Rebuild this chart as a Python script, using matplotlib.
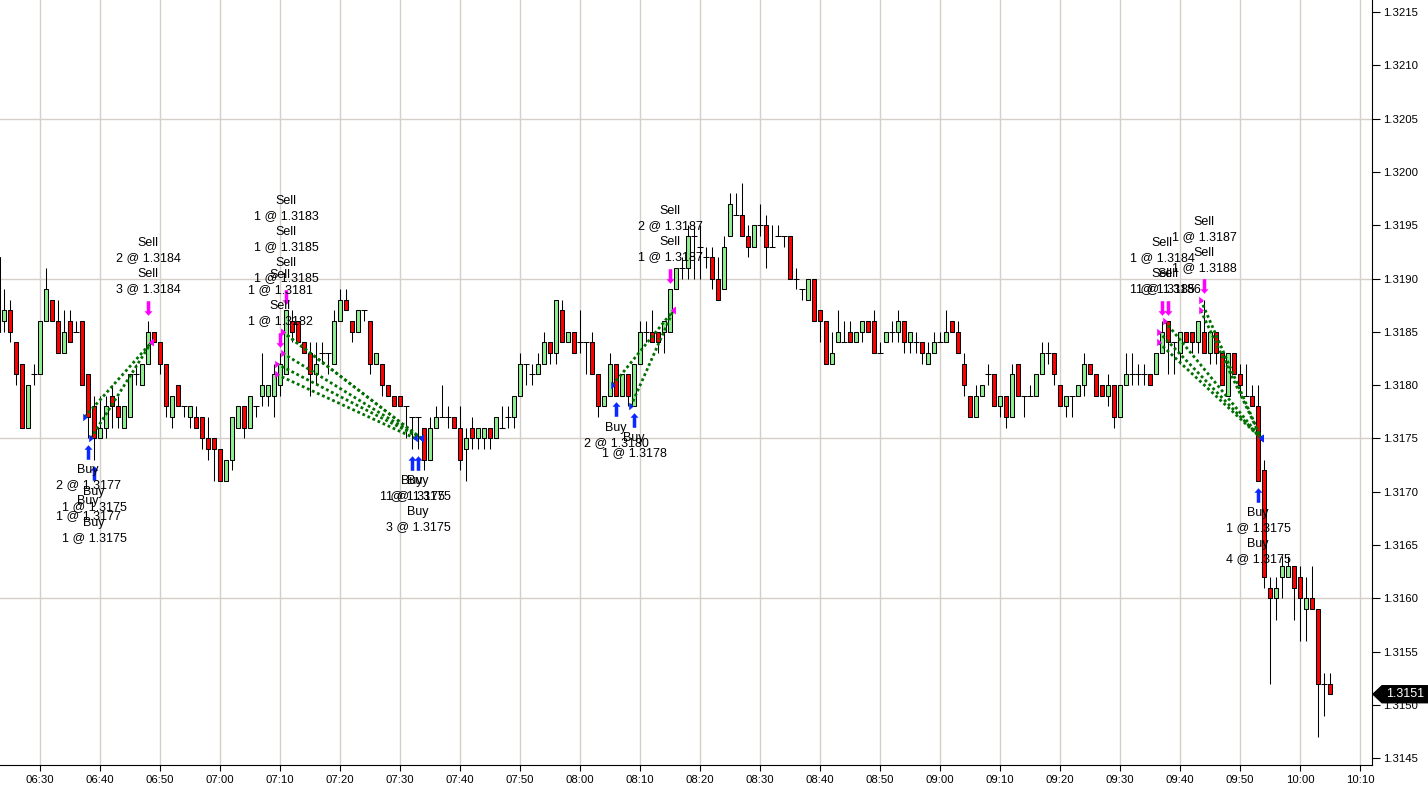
import numpy as np
import pandas as pd
import matplotlib
matplotlib.use("Agg")
import matplotlib.pyplot as plt
import matplotlib.transforms as mtransforms
from matplotlib.path import Path
from matplotlib.patches import Polygon

plt.rcParams['font.family'] = ['Liberation Sans', 'DejaVu Sans']

# one-minute bars, 06:23 .. 10:05
times = pd.date_range("2012-01-01 06:23", "2012-01-01 10:05", freq="min")

opens = [
    1.3192, 1.3186, 1.3187, 1.3184, 1.3182, 1.3176, 1.3181, 1.3181, 1.3186, 1.3188,  # 06:23
    1.3186, 1.3183, 1.3186, 1.3185, 1.3186, 1.3181, 1.3178, 1.3175, 1.3176, 1.3179,  # 06:33
    1.3178, 1.3176, 1.3177, 1.3181, 1.3180, 1.3182, 1.3185, 1.3184, 1.3182, 1.3177,  # 06:43
    1.3180, 1.3178, 1.3177, 1.3177, 1.3177, 1.3175, 1.3175, 1.3174, 1.3171, 1.3173,  # 06:53
    1.3176, 1.3178, 1.3176, 1.3178, 1.3179, 1.3179, 1.3179, 1.3180, 1.3181, 1.3186,  # 07:03
    1.3186, 1.3184, 1.3183, 1.3181, 1.3183, 1.3183, 1.3182, 1.3186, 1.3188, 1.3186,  # 07:13
    1.3185, 1.3187, 1.3186, 1.3182, 1.3182, 1.3180, 1.3179, 1.3179, 1.3178, 1.3177,  # 07:23
    1.3177, 1.3176, 1.3173, 1.3176, 1.3177, 1.3177, 1.3177, 1.3176, 1.3174, 1.3176,  # 07:33
    1.3175, 1.3175, 1.3176, 1.3175, 1.3176, 1.3177, 1.3177, 1.3179, 1.3182, 1.3181,  # 07:43
    1.3181, 1.3182, 1.3184, 1.3183, 1.3187, 1.3184, 1.3185, 1.3184, 1.3184, 1.3184,  # 07:53
    1.3181, 1.3178, 1.3179, 1.3182, 1.3179, 1.3181, 1.3178, 1.3182, 1.3185, 1.3185,  # 08:03
    1.3185, 1.3185, 1.3185, 1.3189, 1.3191, 1.3191, 1.3194, 1.3193, 1.3192, 1.3192,  # 08:13
    1.3190, 1.3189, 1.3194, 1.3196, 1.3196, 1.3194, 1.3193, 1.3195, 1.3195, 1.3193,  # 08:23
    1.3194, 1.3194, 1.3194, 1.3190, 1.3189, 1.3188, 1.3190, 1.3187, 1.3186, 1.3182,  # 08:33
    1.3184, 1.3184, 1.3185, 1.3184, 1.3185, 1.3186, 1.3186, 1.3183, 1.3184, 1.3185,  # 08:43
    1.3185, 1.3186, 1.3184, 1.3184, 1.3184, 1.3182, 1.3183, 1.3184, 1.3184, 1.3186,  # 08:53
    1.3185, 1.3182, 1.3179, 1.3177, 1.3179, 1.3181, 1.3181, 1.3178, 1.3179, 1.3177,  # 09:03
    1.3182, 1.3179, 1.3179, 1.3179, 1.3181, 1.3183, 1.3183, 1.3180, 1.3178, 1.3179,  # 09:13
    1.3179, 1.3180, 1.3182, 1.3181, 1.3180, 1.3179, 1.3180, 1.3177, 1.3180, 1.3181,  # 09:23
    1.3181, 1.3181, 1.3181, 1.3181, 1.3183, 1.3186, 1.3184, 1.3183, 1.3185, 1.3185,  # 09:33
    1.3184, 1.3185, 1.3183, 1.3185, 1.3183, 1.3179, 1.3183, 1.3181, 1.3179, 1.3179,  # 09:43
    1.3178, 1.3172, 1.3161, 1.3160, 1.3162, 1.3162, 1.3163, 1.3162, 1.3159, 1.3160,  # 09:53
    1.3159, 1.3152, 1.3152,                                                          # 10:03
]
highs = [
    1.3192, 1.3189, 1.3188, 1.3184, 1.3182, 1.3180, 1.3182, 1.3186, 1.3191, 1.3188,
    1.3188, 1.3187, 1.3187, 1.3186, 1.3186, 1.3181, 1.3179, 1.3179, 1.3179, 1.3180,
    1.3179, 1.3178, 1.3181, 1.3182, 1.3182, 1.3186, 1.3185, 1.3184, 1.3182, 1.3179,
    1.3180, 1.3178, 1.3178, 1.3178, 1.3177, 1.3177, 1.3175, 1.3174, 1.3173, 1.3177,
    1.3178, 1.3178, 1.3179, 1.3178, 1.3183, 1.3180, 1.3182, 1.3183, 1.3187, 1.3187,
    1.3186, 1.3184, 1.3184, 1.3184, 1.3184, 1.3183, 1.3187, 1.3189, 1.3189, 1.3186,
    1.3187, 1.3187, 1.3186, 1.3183, 1.3182, 1.3180, 1.3179, 1.3179, 1.3178, 1.3177,
    1.3177, 1.3176, 1.3177, 1.3178, 1.3180, 1.3178, 1.3177, 1.3178, 1.3176, 1.3177,
    1.3176, 1.3176, 1.3176, 1.3177, 1.3178, 1.3178, 1.3179, 1.3183, 1.3182, 1.3182,
    1.3183, 1.3185, 1.3184, 1.3188, 1.3188, 1.3185, 1.3185, 1.3187, 1.3184, 1.3185,
    1.3181, 1.3179, 1.3183, 1.3182, 1.3181, 1.3181, 1.3182, 1.3186, 1.3186, 1.3187,
    1.3185, 1.3186, 1.3189, 1.3191, 1.3192, 1.3195, 1.3195, 1.3195, 1.3193, 1.3193,
    1.3192, 1.3194, 1.3198, 1.3198, 1.3199, 1.3195, 1.3195, 1.3197, 1.3196, 1.3195,
    1.3195, 1.3194, 1.3194, 1.3191, 1.3189, 1.3190, 1.3190, 1.3187, 1.3186, 1.3185,
    1.3187, 1.3186, 1.3186, 1.3185, 1.3186, 1.3186, 1.3187, 1.3184, 1.3185, 1.3186,
    1.3187, 1.3186, 1.3185, 1.3185, 1.3184, 1.3184, 1.3185, 1.3185, 1.3187, 1.3186,
    1.3186, 1.3183, 1.3179, 1.3180, 1.3180, 1.3182, 1.3181, 1.3179, 1.3179, 1.3182,
    1.3182, 1.3179, 1.3180, 1.3181, 1.3184, 1.3184, 1.3183, 1.3180, 1.3179, 1.3179,
    1.3180, 1.3183, 1.3182, 1.3181, 1.3180, 1.3181, 1.3180, 1.3180, 1.3183, 1.3183,
    1.3182, 1.3182, 1.3181, 1.3183, 1.3186, 1.3186, 1.3184, 1.3185, 1.3185, 1.3185,
    1.3186, 1.3188, 1.3185, 1.3185, 1.3183, 1.3183, 1.3183, 1.3182, 1.3182, 1.3180,
    1.3180, 1.3173, 1.3162, 1.3162, 1.3164, 1.3164, 1.3163, 1.3163, 1.3162, 1.3163,
    1.3159, 1.3153, 1.3153,
]
lows = [
    1.3185, 1.3185, 1.3184, 1.3180, 1.3176, 1.3176, 1.3180, 1.3181, 1.3186, 1.3186,
    1.3183, 1.3183, 1.3184, 1.3185, 1.3180, 1.3175, 1.3173, 1.3175, 1.3175, 1.3176,
    1.3176, 1.3176, 1.3177, 1.3180, 1.3180, 1.3182, 1.3184, 1.3181, 1.3177, 1.3176,
    1.3178, 1.3177, 1.3176, 1.3176, 1.3174, 1.3173, 1.3171, 1.3171, 1.3171, 1.3172,
    1.3176, 1.3175, 1.3176, 1.3177, 1.3178, 1.3178, 1.3177, 1.3179, 1.3181, 1.3184,
    1.3184, 1.3183, 1.3179, 1.3180, 1.3182, 1.3181, 1.3182, 1.3186, 1.3187, 1.3184,
    1.3185, 1.3186, 1.3181, 1.3182, 1.3179, 1.3179, 1.3178, 1.3178, 1.3175, 1.3174,
    1.3174, 1.3172, 1.3173, 1.3176, 1.3177, 1.3176, 1.3176, 1.3172, 1.3171, 1.3174,
    1.3174, 1.3174, 1.3174, 1.3175, 1.3176, 1.3176, 1.3176, 1.3179, 1.3180, 1.3180,
    1.3181, 1.3182, 1.3182, 1.3182, 1.3184, 1.3184, 1.3183, 1.3183, 1.3181, 1.3181,
    1.3177, 1.3178, 1.3179, 1.3179, 1.3179, 1.3178, 1.3178, 1.3182, 1.3184, 1.3184,
    1.3183, 1.3183, 1.3185, 1.3189, 1.3190, 1.3190, 1.3190, 1.3190, 1.3191, 1.3189,
    1.3188, 1.3189, 1.3194, 1.3196, 1.3194, 1.3192, 1.3193, 1.3194, 1.3191, 1.3193,
    1.3194, 1.3193, 1.3190, 1.3189, 1.3188, 1.3188, 1.3186, 1.3184, 1.3182, 1.3182,
    1.3184, 1.3184, 1.3184, 1.3184, 1.3184, 1.3185, 1.3183, 1.3183, 1.3184, 1.3184,
    1.3184, 1.3183, 1.3183, 1.3183, 1.3182, 1.3182, 1.3183, 1.3184, 1.3184, 1.3185,
    1.3183, 1.3179, 1.3177, 1.3177, 1.3179, 1.3180, 1.3178, 1.3177, 1.3176, 1.3177,
    1.3179, 1.3177, 1.3179, 1.3179, 1.3181, 1.3182, 1.3180, 1.3178, 1.3177, 1.3177,
    1.3179, 1.3179, 1.3181, 1.3179, 1.3179, 1.3178, 1.3176, 1.3177, 1.3180, 1.3180,
    1.3180, 1.3180, 1.3180, 1.3181, 1.3183, 1.3181, 1.3181, 1.3182, 1.3184, 1.3183,
    1.3183, 1.3183, 1.3182, 1.3182, 1.3180, 1.3179, 1.3181, 1.3179, 1.3179, 1.3178,
    1.3171, 1.3161, 1.3152, 1.3158, 1.3160, 1.3162, 1.3158, 1.3156, 1.3156, 1.3159,
    1.3147, 1.3149, 1.3151,
]
closes = [
    1.3185, 1.3187, 1.3185, 1.3181, 1.3176, 1.3180, 1.3181, 1.3186, 1.3189, 1.3186,
    1.3183, 1.3185, 1.3184, 1.3185, 1.3180, 1.3177, 1.3175, 1.3176, 1.3178, 1.3178,
    1.3177, 1.3178, 1.3181, 1.3181, 1.3182, 1.3185, 1.3184, 1.3182, 1.3178, 1.3179,
    1.3178, 1.3178, 1.3178, 1.3176, 1.3175, 1.3174, 1.3174, 1.3171, 1.3173, 1.3177,
    1.3178, 1.3176, 1.3179, 1.3178, 1.3180, 1.3180, 1.3181, 1.3182, 1.3187, 1.3185,
    1.3184, 1.3183, 1.3181, 1.3182, 1.3183, 1.3183, 1.3186, 1.3188, 1.3187, 1.3185,
    1.3187, 1.3187, 1.3182, 1.3183, 1.3180, 1.3179, 1.3178, 1.3178, 1.3178, 1.3177,
    1.3177, 1.3173, 1.3176, 1.3177, 1.3177, 1.3177, 1.3176, 1.3173, 1.3175, 1.3175,
    1.3176, 1.3176, 1.3175, 1.3177, 1.3176, 1.3177, 1.3179, 1.3182, 1.3182, 1.3181,
    1.3182, 1.3184, 1.3183, 1.3188, 1.3184, 1.3185, 1.3183, 1.3184, 1.3184, 1.3181,
    1.3178, 1.3179, 1.3182, 1.3179, 1.3181, 1.3179, 1.3182, 1.3185, 1.3185, 1.3184,
    1.3184, 1.3186, 1.3189, 1.3191, 1.3191, 1.3194, 1.3194, 1.3193, 1.3192, 1.3190,
    1.3188, 1.3193, 1.3197, 1.3196, 1.3194, 1.3193, 1.3195, 1.3195, 1.3193, 1.3193,
    1.3194, 1.3194, 1.3190, 1.3190, 1.3189, 1.3190, 1.3186, 1.3186, 1.3182, 1.3183,
    1.3185, 1.3184, 1.3184, 1.3185, 1.3186, 1.3185, 1.3183, 1.3183, 1.3185, 1.3185,
    1.3186, 1.3184, 1.3185, 1.3184, 1.3183, 1.3183, 1.3184, 1.3184, 1.3185, 1.3185,
    1.3183, 1.3180, 1.3177, 1.3179, 1.3180, 1.3181, 1.3178, 1.3179, 1.3177, 1.3181,
    1.3179, 1.3179, 1.3179, 1.3181, 1.3183, 1.3183, 1.3181, 1.3178, 1.3179, 1.3179,
    1.3180, 1.3182, 1.3181, 1.3179, 1.3179, 1.3180, 1.3177, 1.3180, 1.3181, 1.3181,
    1.3181, 1.3181, 1.3180, 1.3183, 1.3185, 1.3184, 1.3184, 1.3185, 1.3184, 1.3184,
    1.3186, 1.3183, 1.3185, 1.3183, 1.3180, 1.3183, 1.3181, 1.3180, 1.3179, 1.3178,
    1.3171, 1.3162, 1.3160, 1.3161, 1.3163, 1.3163, 1.3161, 1.3160, 1.3160, 1.3159,
    1.3152, 1.3152, 1.3151,
]

# fills shown on the chart (bar time -> labels, from the bar outward)
buy_labels = {
    "06:38": ["2 @ 1.3177", "1 @ 1.3177"],
    "06:39": ["1 @ 1.3175", "1 @ 1.3175"],
    "07:32": ["1 @ 1.3175"],
    "07:33": ["1 @ 1.3175", "3 @ 1.3175"],
    "08:06": ["2 @ 1.3180"],
    "08:09": ["1 @ 1.3178"],
    "09:53": ["1 @ 1.3175", "4 @ 1.3175"],
}
sell_labels = {
    "06:48": ["3 @ 1.3184", "2 @ 1.3184"],
    "07:10": ["1 @ 1.3182", "1 @ 1.3181"],
    "07:11": ["1 @ 1.3185", "1 @ 1.3185", "1 @ 1.3183"],
    "08:15": ["1 @ 1.3187", "2 @ 1.3187"],
    "09:37": ["1 @ 1.3185", "1 @ 1.3184"],
    "09:38": ["1 @ 1.3186"],
    "09:44": ["1 @ 1.3188", "1 @ 1.3187"],
}

# round trips: entry -> exit
trade_side = ["long", "long", "short", "short", "short", "short", "short",
              "long", "long", "short", "short", "short", "short", "short"]
entry_time = ["06:38", "06:39", "07:10", "07:10", "07:11", "07:11", "07:11",
              "08:06", "08:09", "09:37", "09:37", "09:38", "09:44", "09:44"]
entry_price = [1.3177, 1.3175, 1.3181, 1.3182, 1.3183, 1.3185, 1.3185,
               1.3180, 1.3178, 1.3184, 1.3185, 1.3186, 1.3187, 1.3188]
exit_time = ["06:48", "06:48", "07:32", "07:33", "07:33", "07:33", "07:33",
             "08:15", "08:15", "09:53", "09:53", "09:53", "09:53", "09:53"]
exit_price = [1.3184, 1.3184, 1.3175, 1.3175, 1.3175, 1.3175, 1.3175,
              1.3187, 1.3187, 1.3175, 1.3175, 1.3175, 1.3175, 1.3175]

last_price = 1.3151

df = pd.DataFrame({"Open": opens, "High": highs, "Low": lows, "Close": closes}, index=times)
t0 = pd.Timestamp("2012-01-01 06:24")
df["x"] = (df.index - t0).total_seconds() / 60


def xpos(hhmm):
    return (pd.Timestamp("2012-01-01 " + hhmm) - t0).total_seconds() / 60


def bar(hhmm):
    return df.loc[pd.Timestamp("2012-01-01 " + hhmm)]


UP = "#90ee90"
DOWN = "#ff0000"
GRID = "#d4d0c8"
BLUE = "#0a28ff"
MAGENTA = "#ff00ff"
LINE = "#007000"

fig = plt.figure(figsize=(14.28, 7.91), dpi=100)
ax = fig.add_axes([0, 26 / 791, 1372 / 1428, 765 / 791])
ax.set_xlim(-0.667, 228.0)
ax.set_ylim(1.314436, 1.321613)

# grid
xlabels = pd.date_range("2012-01-01 06:30", "2012-01-01 10:10", freq="10min").strftime("%H:%M")
xticks = [xpos(t) for t in xlabels]
for xt in xticks:
    ax.axvline(xt, color=GRID, lw=1, zorder=0)
for gy in [1.3160, 1.3175, 1.3190, 1.3205]:
    ax.axhline(gy, color=GRID, lw=1, zorder=0)

# candles
ax.vlines(df["x"], df["Low"], df["High"], color="black", lw=0.75, zorder=2)
body = df[df["Close"] != df["Open"]]
up = body[body["Close"] > body["Open"]]
dn = body[body["Close"] < body["Open"]]
ax.bar(up["x"], up["Close"] - up["Open"], bottom=up["Open"], width=0.75,
       color=UP, edgecolor="black", linewidth=0.75, zorder=3)
ax.bar(dn["x"], dn["Open"] - dn["Close"], bottom=dn["Close"], width=0.75,
       color=DOWN, edgecolor="black", linewidth=0.75, zorder=3)
doji = df[df["Close"] == df["Open"]]
ax.hlines(doji["Open"], doji["x"] - 0.45, doji["x"] + 0.45, color="black", lw=0.75, zorder=3)

# entry / exit triangles (taller than wide)
tri_right = Path([(-0.6, -1), (0.6, 0), (-0.6, 1), (-0.6, -1)],
                 [Path.MOVETO, Path.LINETO, Path.LINETO, Path.CLOSEPOLY])
tri_left = Path([(-x, y) for x, y in tri_right.vertices], tri_right.codes)

for side, et, ep, xt_, xp in zip(trade_side, entry_time, entry_price, exit_time, exit_price):
    x1 = xpos(et) - 0.55
    x2 = xpos(xt_) + 0.55
    ax.plot([x1, x2], [ep, xp], color=LINE, lw=2.0, ls=(0, (1, 1)), zorder=4)
    ax.plot(x1, ep, marker=tri_right, ms=5.5, color=BLUE if side == "long" else MAGENTA,
            mec="none", zorder=5)
    ax.plot(x2, xp, marker=tri_left, ms=5.5, color=MAGENTA if side == "long" else BLUE,
            mec="none", zorder=5)

# buy / sell arrows
up_arrow = Path([(-0.24, -1), (0.24, -1), (0.24, 0.38), (0.55, 0.38), (0, 1),
                 (-0.55, 0.38), (-0.24, 0.38), (-0.24, -1)],
                [Path.MOVETO] + [Path.LINETO] * 6 + [Path.CLOSEPOLY])
down_arrow = Path([(x, -y) for x, y in up_arrow.vertices], up_arrow.codes)

below = ax.transData + mtransforms.ScaledTranslation(0, -13.5 / 100, fig.dpi_scale_trans)
above = ax.transData + mtransforms.ScaledTranslation(0, 13.5 / 100, fig.dpi_scale_trans)

for t, labs in buy_labels.items():
    x, low = xpos(t), bar(t)["Low"]
    ax.plot(x, low, marker=up_arrow, ms=10.5, color=BLUE, mec="none", transform=below, zorder=6)
    for k, lab in enumerate(labs):
        ax.annotate("Buy", (x, low), xytext=(0, -32 - 31 * k), textcoords="offset pixels",
                    ha="center", va="center", fontsize=9, zorder=7)
        ax.annotate(lab, (x, low), xytext=(0, -47 - 31 * k), textcoords="offset pixels",
                    ha="center", va="center", fontsize=9, zorder=7)

for t, labs in sell_labels.items():
    x, high = xpos(t), bar(t)["High"]
    ax.plot(x, high, marker=down_arrow, ms=10.5, color=MAGENTA, mec="none", transform=above, zorder=6)
    for k, lab in enumerate(labs):
        ax.annotate(lab, (x, high), xytext=(0, 32 + 31 * k), textcoords="offset pixels",
                    ha="center", va="center", fontsize=9, zorder=7)
        ax.annotate("Sell", (x, high), xytext=(0, 47 + 31 * k), textcoords="offset pixels",
                    ha="center", va="center", fontsize=9, zorder=7)

# axes styling
for s in ["top", "left"]:
    ax.spines[s].set_visible(False)
ax.spines["right"].set_color("black")
ax.spines["bottom"].set_color("black")
ax.yaxis.tick_right()
yt = np.round(np.arange(1.3145, 1.32151, 0.0005), 4)
ax.set_yticks(yt)
ax.set_yticklabels([f"{v:.4f}" for v in yt])
ax.set_xticks(xticks)
ax.set_xticklabels(xlabels)
ax.tick_params(axis="y", direction="out", length=6, width=0.8, pad=2, labelsize=8.2)
ax.tick_params(axis="x", direction="out", length=4, width=0.8, pad=3, labelsize=8.2)

# last price tag
ident = mtransforms.IdentityTransform()
yp = ax.transData.transform((0, last_price))[1]
xr = ax.transAxes.transform((1, 0))[0]
fig.add_artist(Polygon([[xr + 1, yp], [xr + 10, yp + 8.5], [1428, yp + 8.5],
                        [1428, yp - 8.5], [xr + 10, yp - 8.5]],
                       closed=True, fc="black", ec="black", transform=ident))
fig.text(xr + 33, yp, f"{last_price:.4f}", transform=ident, color="white",
         ha="center", va="center", fontsize=9)

fig.savefig("out.png", dpi=100)
